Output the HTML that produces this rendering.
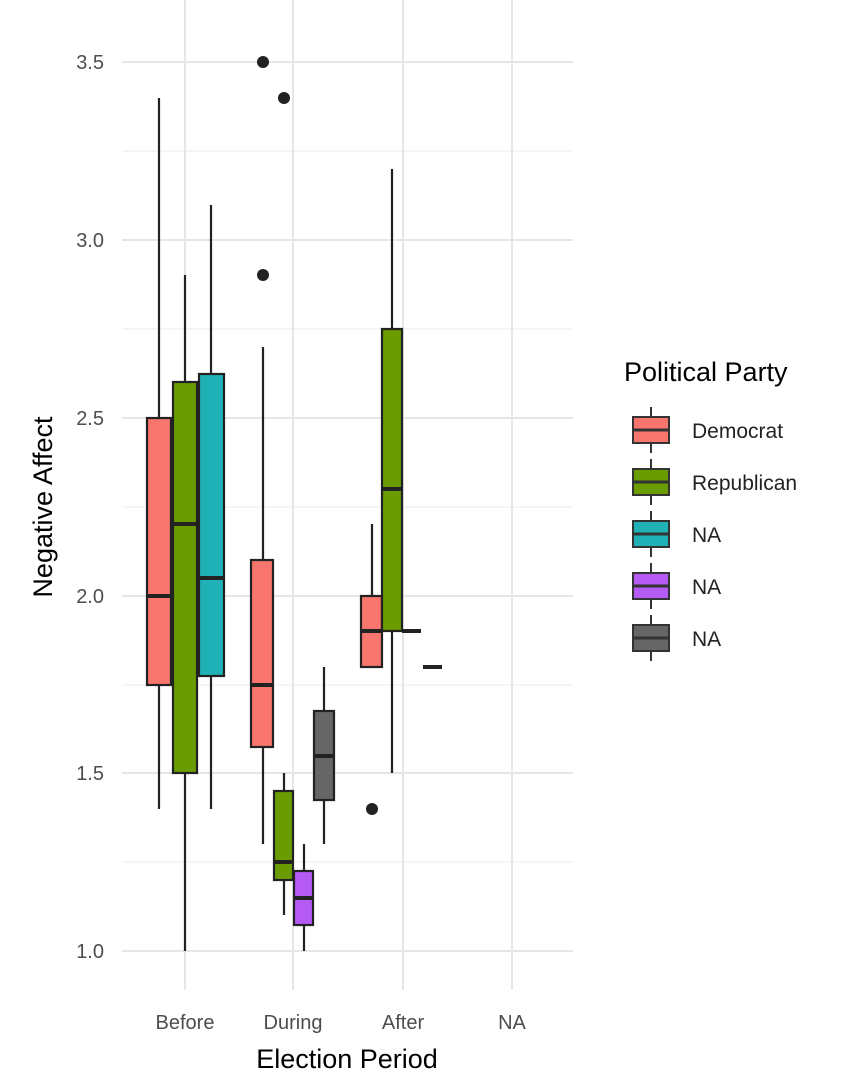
<!DOCTYPE html>
<html><head><meta charset="utf-8"><style>body{margin:0;background:#fff}svg{display:block;font-family:"Liberation Sans",sans-serif}</style></head><body>
<svg width="853" height="1092" viewBox="0 0 853 1092">
<g stroke="#ebebeb" stroke-width="1">
<line x1="122" x2="573" y1="151" y2="151"/><line x1="122" x2="573" y1="329" y2="329"/><line x1="122" x2="573" y1="507" y2="507"/><line x1="122" x2="573" y1="685" y2="685"/><line x1="122" x2="573" y1="862" y2="862"/>
</g>
<g stroke="#e6e6e6" stroke-width="2">
<line x1="122" x2="573" y1="62" y2="62"/><line x1="122" x2="573" y1="240" y2="240"/><line x1="122" x2="573" y1="418" y2="418"/><line x1="122" x2="573" y1="596" y2="596"/><line x1="122" x2="573" y1="773" y2="773"/><line x1="122" x2="573" y1="951" y2="951"/>
<line x1="185" x2="185" y1="0" y2="990"/><line x1="293" x2="293" y1="0" y2="990"/><line x1="403" x2="403" y1="0" y2="990"/><line x1="512" x2="512" y1="0" y2="990"/>
</g>
<g fill="#4d4d4d" font-size="20" text-anchor="end">
<text x="104" y="69">3.5</text><text x="104" y="247">3.0</text><text x="104" y="425">2.5</text><text x="104" y="603">2.0</text><text x="104" y="780">1.5</text><text x="104" y="958">1.0</text>
</g>
<g fill="#4d4d4d" font-size="20" text-anchor="middle">
<text x="185" y="1029">Before</text><text x="293" y="1029">During</text><text x="403" y="1029">After</text><text x="512" y="1029">NA</text>
</g>
<text x="347" y="1068" font-size="27" text-anchor="middle">Election Period</text>
<text transform="translate(52,507) rotate(-90)" font-size="27" text-anchor="middle">Negative Affect</text>
<g stroke="#222" stroke-width="2.2">
<line x1="159" x2="159" y1="98" y2="809"/><rect x="147" y="418" width="24" height="267" fill="#f8766d"/><line x1="147" x2="171" y1="596" y2="596" stroke-width="4"/>
<line x1="185" x2="185" y1="275" y2="951"/><rect x="173" y="382" width="24" height="391" fill="#6a9c00"/><line x1="173" x2="197" y1="524" y2="524" stroke-width="4"/>
<line x1="211" x2="211" y1="205" y2="809"/><rect x="199" y="374" width="25" height="302" fill="#1fb1b6"/><line x1="199" x2="224" y1="578" y2="578" stroke-width="4"/>
<line x1="263" x2="263" y1="347" y2="844"/><rect x="251" y="560" width="22" height="187" fill="#f8766d"/><line x1="251" x2="273" y1="685" y2="685" stroke-width="4"/>
<line x1="284" x2="284" y1="773" y2="915"/><rect x="274" y="791" width="19" height="89" fill="#6a9c00"/><line x1="274" x2="293" y1="862" y2="862" stroke-width="4"/>
<line x1="304" x2="304" y1="844" y2="951"/><rect x="294" y="871" width="19" height="54" fill="#b65af6"/><line x1="294" x2="313" y1="898" y2="898" stroke-width="4"/>
<line x1="324" x2="324" y1="667" y2="844"/><rect x="314" y="711" width="20" height="89" fill="#666"/><line x1="314" x2="334" y1="756" y2="756" stroke-width="4"/>
<line x1="372" x2="372" y1="524" y2="667"/><rect x="361" y="596" width="21" height="71" fill="#f8766d"/><line x1="361" x2="382" y1="631" y2="631" stroke-width="4"/>
<line x1="392" x2="392" y1="169" y2="773"/><rect x="382" y="329" width="20" height="302" fill="#6a9c00"/><line x1="382" x2="402" y1="489" y2="489" stroke-width="4"/>
<line x1="402" x2="421" y1="631" y2="631" stroke-width="4"/><line x1="423" x2="442" y1="667" y2="667" stroke-width="4"/>
</g>
<g fill="#222"><circle cx="263" cy="62" r="6"/><circle cx="263" cy="275" r="6"/><circle cx="284" cy="98" r="6"/><circle cx="372" cy="809" r="6"/></g>
<text x="624" y="381" font-size="27">Political Party</text>
<g stroke="#333" stroke-width="2">
<line x1="651" x2="651" y1="407" y2="453"/><rect x="633" y="417" width="36" height="26" fill="#f8766d"/><line x1="633" x2="669" y1="430" y2="430" stroke-width="3"/>
<line x1="651" x2="651" y1="459" y2="505"/><rect x="633" y="469" width="36" height="26" fill="#6a9c00"/><line x1="633" x2="669" y1="482" y2="482" stroke-width="3"/>
<line x1="651" x2="651" y1="511" y2="557"/><rect x="633" y="521" width="36" height="26" fill="#1fb1b6"/><line x1="633" x2="669" y1="534" y2="534" stroke-width="3"/>
<line x1="651" x2="651" y1="563" y2="609"/><rect x="633" y="573" width="36" height="26" fill="#b65af6"/><line x1="633" x2="669" y1="586" y2="586" stroke-width="3"/>
<line x1="651" x2="651" y1="615" y2="661"/><rect x="633" y="625" width="36" height="26" fill="#666"/><line x1="633" x2="669" y1="638" y2="638" stroke-width="3"/>
</g>
<g font-size="21" fill="#222"><text x="692" y="438">Democrat</text><text x="692" y="490">Republican</text><text x="692" y="542">NA</text><text x="692" y="594">NA</text><text x="692" y="646">NA</text></g>
</svg>
</body></html>
